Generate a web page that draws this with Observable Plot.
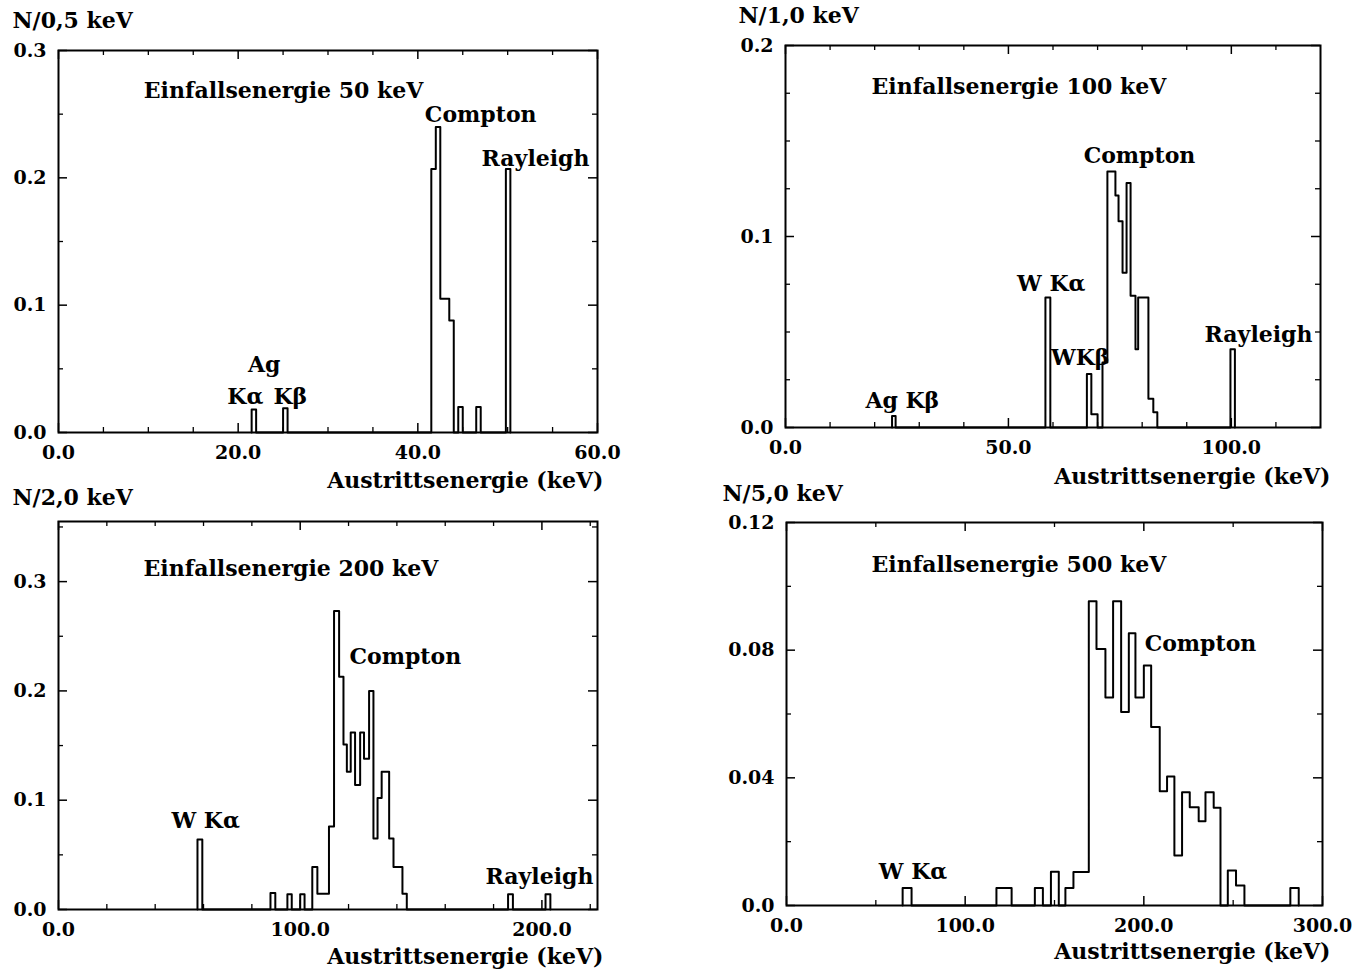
<!DOCTYPE html>
<html><head><meta charset="utf-8">
<script src="https://cdn.jsdelivr.net/npm/d3@7"></script>
<script src="https://cdn.jsdelivr.net/npm/@observablehq/plot@0.6"></script>
<style>
body{margin:0;background:#fff;}
#root{position:relative;width:1363px;height:974px;overflow:hidden;background:#fff;}
.panel{position:absolute;}
</style></head><body><div id="root"></div>
<script>
// ---------- data (step histograms: level[i] holds from edge[i] to edge[i+1]) ----------
const p1Edges  = [21.5, 22.0, 25.0, 25.5, 41.5, 42.0, 42.5, 43.5, 44.0, 44.5, 45.0, 46.5, 47.0, 49.8, 50.3];
const p1Levels = [0.018, 0, 0.019, 0, 0.207, 0.240, 0.105, 0.088, 0, 0.020, 0, 0.020, 0, 0.207];

const p2Edges  = [23.9, 24.7, 58.3, 59.4, 67.6, 68.6, 70.0, 71.1, 72.2, 74.0, 74.7, 75.6, 76.5, 77.4, 78.5, 79.1, 81.4, 82.5, 83.4, 99.8, 100.8];
const p2Levels = [0.006, 0, 0.068, 0, 0.028, 0.007, 0, 0.034, 0.134, 0.1215, 0.108, 0.081, 0.128, 0.069, 0.041, 0.068, 0.015, 0.008, 0, 0.041];

const p3Edges  = [57.5, 59.5, 87.7, 89.7, 94.7, 96.5, 100.0, 101.8, 105.0, 107.1, 111.9, 114.0, 116.1, 117.9, 119.3, 120.9, 122.7, 124.8, 126.4, 128.5, 130.3, 132.0, 133.7, 136.8, 138.6, 142.3, 144.1, 186.0, 188.0, 201.5, 203.5];
const p3Levels = [0.064, 0, 0.015, 0, 0.014, 0, 0.014, 0, 0.039, 0.0144, 0.076, 0.273, 0.213, 0.151, 0.126, 0.162, 0.114, 0.162, 0.138, 0.200, 0.065, 0.102, 0.126, 0.065, 0.039, 0.0144, 0, 0.014, 0, 0.014];

const p4Edges  = [65, 70, 117.5, 126, 139, 143.5, 148, 152.4, 156.1, 160.6, 169.2, 173.5, 178.5, 182.8, 187.3, 191.6, 195.3, 200, 204.1, 208.9, 213, 217.1, 221.4, 225.7, 230.7, 234.5, 239.1, 242.9, 247, 251.6, 256.3, 282, 286.7];
const p4Levels = [0.0055, 0, 0.0055, 0, 0.0055, 0, 0.0106, 0, 0.0055, 0.0105, 0.0953, 0.0804, 0.0652, 0.0953, 0.0606, 0.0853, 0.0652, 0.0752, 0.0559, 0.0358, 0.0404, 0.0157, 0.0355, 0.0308, 0.0264, 0.0355, 0.0306, 0, 0.011, 0.0063, 0, 0.0055];

// tick values
const p1XTicks = [0, 20, 40, 60];        const p1YTicks = [0, 0.1, 0.2, 0.3];
const p2XTicks = [0, 50, 100];           const p2YTicks = [0, 0.1, 0.2];
const p3XTicks = [0, 100, 200];          const p3YTicks = [0, 0.1, 0.2, 0.3];
const p4XTicks = [0, 100, 200, 300];     const p4YTicks = [0, 0.04, 0.08, 0.12];
const p1XMinor = [5, 10, 15, 25, 30, 35, 45, 50, 55];       const p1YMinor = [0.05, 0.15, 0.25];
const p2XMinor = [10, 20, 30, 40, 60, 70, 80, 90, 110];     const p2YMinor = [0.025, 0.05, 0.075, 0.125, 0.15, 0.175];
const p3XMinor = [20, 40, 60, 80, 120, 140, 160, 180, 220]; const p3YMinor = [0.05, 0.15, 0.25, 0.35];
const p4XMinor = [50, 150, 250];                            const p4YMinor = [0.02, 0.06, 0.1];

// axis titles
const p1YTitle = "N/0,5 keV", p2YTitle = "N/1,0 keV", p3YTitle = "N/2,0 keV", p4YTitle = "N/5,0 keV";
const xTitle = "Austrittsenergie (keV)";

// annotations (x in keV, y in axis units)
const p1Notes = [
  {x: 9.5,  y: 0.268, text: "Einfallsenergie 50 keV", anchor: "start"},
  {x: 47.0, y: 0.249, text: "Compton", anchor: "middle"},
  {x: 53.1, y: 0.215, text: "Rayleigh", anchor: "middle"},
  {x: 22.9, y: 0.0534, text: "Ag", anchor: "middle"},
  {x: 20.8, y: 0.028, text: "Kα", anchor: "middle"},
  {x: 25.8, y: 0.028, text: "Kβ", anchor: "middle"}
];
const p2Notes = [
  {x: 19.3, y: 0.1785, text: "Einfallsenergie 100 keV", anchor: "start"},
  {x: 79.4, y: 0.1424, text: "Compton", anchor: "middle"},
  {x: 59.6, y: 0.0754, text: "W Kα", anchor: "middle"},
  {x: 66.1, y: 0.0366, text: "WKβ", anchor: "middle"},
  {x: 106.1, y: 0.0487, text: "Rayleigh", anchor: "middle"},
  {x: 26.2, y: 0.0141, text: "Ag Kβ", anchor: "middle"}
];
const p3Notes = [
  {x: 35.2, y: 0.312, text: "Einfallsenergie 200 keV", anchor: "start"},
  {x: 143.5, y: 0.231, text: "Compton", anchor: "middle"},
  {x: 60.9, y: 0.0807, text: "W Kα", anchor: "middle"},
  {x: 199, y: 0.0294, text: "Rayleigh", anchor: "middle"}
];
const p4Notes = [
  {x: 47.6, y: 0.1068, text: "Einfallsenergie 500 keV", anchor: "start"},
  {x: 231.7, y: 0.0821, text: "Compton", anchor: "middle"},
  {x: 70.8, y: 0.0106, text: "W Kα", anchor: "middle"}
];

// ---------- drawing ----------
const FONT = "'DejaVu Serif', serif";
const f1 = d => d3.format(".1f")(d);
const f2 = d => d === 0 ? "0.0" : d3.format(".2f")(d);

function stepPoints(edges, levels) {
  const pts = [{x: edges[0], y: 0}];
  edges.forEach((e, i) => pts.push({x: e, y: i < levels.length ? levels[i] : 0}));
  return pts;
}

function drawPanel(c) {
  const [x0, x1] = c.xDomain, [y0, y1] = c.yDomain;
  const iw = c.width - c.ml - c.mr, ih = c.height - c.mt - c.mb;
  const ty = (y1 - y0) * 5 / ih, tx = (x1 - x0) * 5 / iw;
  const tyM = ty * 1.8, txM = tx * 1.8;
  const pts = stepPoints(c.edges, c.levels);
  const TXT = {fill: "#000", fontSize: 22, lineAnchor: "middle"};
  const svg = Plot.plot({
    width: c.width, height: c.height,
    marginLeft: c.ml, marginRight: c.mr, marginTop: c.mt, marginBottom: c.mb,
    x: {domain: c.xDomain}, y: {domain: c.yDomain},
    style: {fontFamily: FONT, fontSize: "19px", fontWeight: "bold", color: "#000", background: "transparent", overflow: "visible"},
    marks: [
      Plot.axisX(c.xTicks, {tickSize: 0, tickPadding: 13, tickFormat: f1, label: null}),
      Plot.axisY(c.yTicks, {tickSize: 0, tickPadding: 12, tickFormat: c.yFmt, label: null}),
      // inward minor ticks
      Plot.ruleX(c.xMinor, {x: d => d, y1: y0, y2: y0 + ty, stroke: "#000", strokeWidth: 1.3}),
      Plot.ruleX(c.xMinor, {x: d => d, y1: y1, y2: y1 - ty, stroke: "#000", strokeWidth: 1.3}),
      Plot.ruleY(c.yMinor, {y: d => d, x1: x0, x2: x0 + tx, stroke: "#000", strokeWidth: 1.3}),
      Plot.ruleY(c.yMinor, {y: d => d, x1: x1, x2: x1 - tx, stroke: "#000", strokeWidth: 1.3}),
      // inward major ticks
      Plot.ruleX(c.xTicks, {x: d => d, y1: y0, y2: y0 + tyM, stroke: "#000", strokeWidth: 1.5}),
      Plot.ruleX(c.xTicks, {x: d => d, y1: y1, y2: y1 - tyM, stroke: "#000", strokeWidth: 1.5}),
      Plot.ruleY(c.yTicks, {y: d => d, x1: x0, x2: x0 + txM, stroke: "#000", strokeWidth: 1.5}),
      Plot.ruleY(c.yTicks, {y: d => d, x1: x1, x2: x1 - txM, stroke: "#000", strokeWidth: 1.5}),
      Plot.line(pts, {x: "x", y: "y", curve: "step-after", stroke: "#000", strokeWidth: 2}),
      Plot.frame({stroke: "#000", strokeWidth: 2}),
      Plot.text(c.notes.filter(d => d.anchor === "start"), {x: "x", y: "y", text: "text", textAnchor: "start", ...TXT}),
      Plot.text(c.notes.filter(d => d.anchor === "middle"), {x: "x", y: "y", text: "text", textAnchor: "middle", ...TXT}),
      Plot.text([c.yTitle], {frameAnchor: "top-left", dx: c.ytDx, dy: c.ytDy, textAnchor: "start", ...TXT}),
      Plot.text([xTitle], {frameAnchor: "bottom-right", dx: c.xtDx, dy: c.xtDy, textAnchor: "end", ...TXT})
    ]
  });
  const div = document.createElement("div");
  div.className = "panel";
  div.style.left = c.left + "px";
  div.style.top = c.top + "px";
  div.appendChild(svg);
  document.getElementById("root").appendChild(div);
}

drawPanel({left: 0, top: 0, width: 620, height: 500, ml: 58, mr: 23, mt: 50, mb: 68,
  xDomain: [0, 60], yDomain: [0, 0.3], edges: p1Edges, levels: p1Levels,
  xTicks: p1XTicks, yTicks: p1YTicks, xMinor: p1XMinor, yMinor: p1YMinor, yFmt: f1,
  notes: p1Notes, yTitle: p1YTitle, ytDx: -46, ytDy: -30, xtDx: 6, xtDy: 48});

drawPanel({left: 700, top: 0, width: 663, height: 500, ml: 85, mr: 43, mt: 45, mb: 73,
  xDomain: [0, 120], yDomain: [0, 0.2], edges: p2Edges, levels: p2Levels,
  xTicks: p2XTicks, yTicks: p2YTicks, xMinor: p2XMinor, yMinor: p2YMinor, yFmt: f1,
  notes: p2Notes, yTitle: p2YTitle, ytDx: -47, ytDy: -30, xtDx: 10, xtDy: 49});

drawPanel({left: 0, top: 470, width: 620, height: 504, ml: 58, mr: 23, mt: 51, mb: 65,
  xDomain: [0, 223], yDomain: [0, 0.355], edges: p3Edges, levels: p3Levels,
  xTicks: p3XTicks, yTicks: p3YTicks, xMinor: p3XMinor, yMinor: p3YMinor, yFmt: f1,
  notes: p3Notes, yTitle: p3YTitle, ytDx: -46, ytDy: -24, xtDx: 6, xtDy: 47});

drawPanel({left: 700, top: 470, width: 663, height: 504, ml: 86, mr: 41, mt: 52, mb: 69,
  xDomain: [0, 300], yDomain: [0, 0.12], edges: p4Edges, levels: p4Levels,
  xTicks: p4XTicks, yTicks: p4YTicks, xMinor: p4XMinor, yMinor: p4YMinor, yFmt: f2,
  notes: p4Notes, yTitle: p4YTitle, ytDx: -64, ytDy: -29, xtDx: 8, xtDy: 46});
</script>
</body></html>
